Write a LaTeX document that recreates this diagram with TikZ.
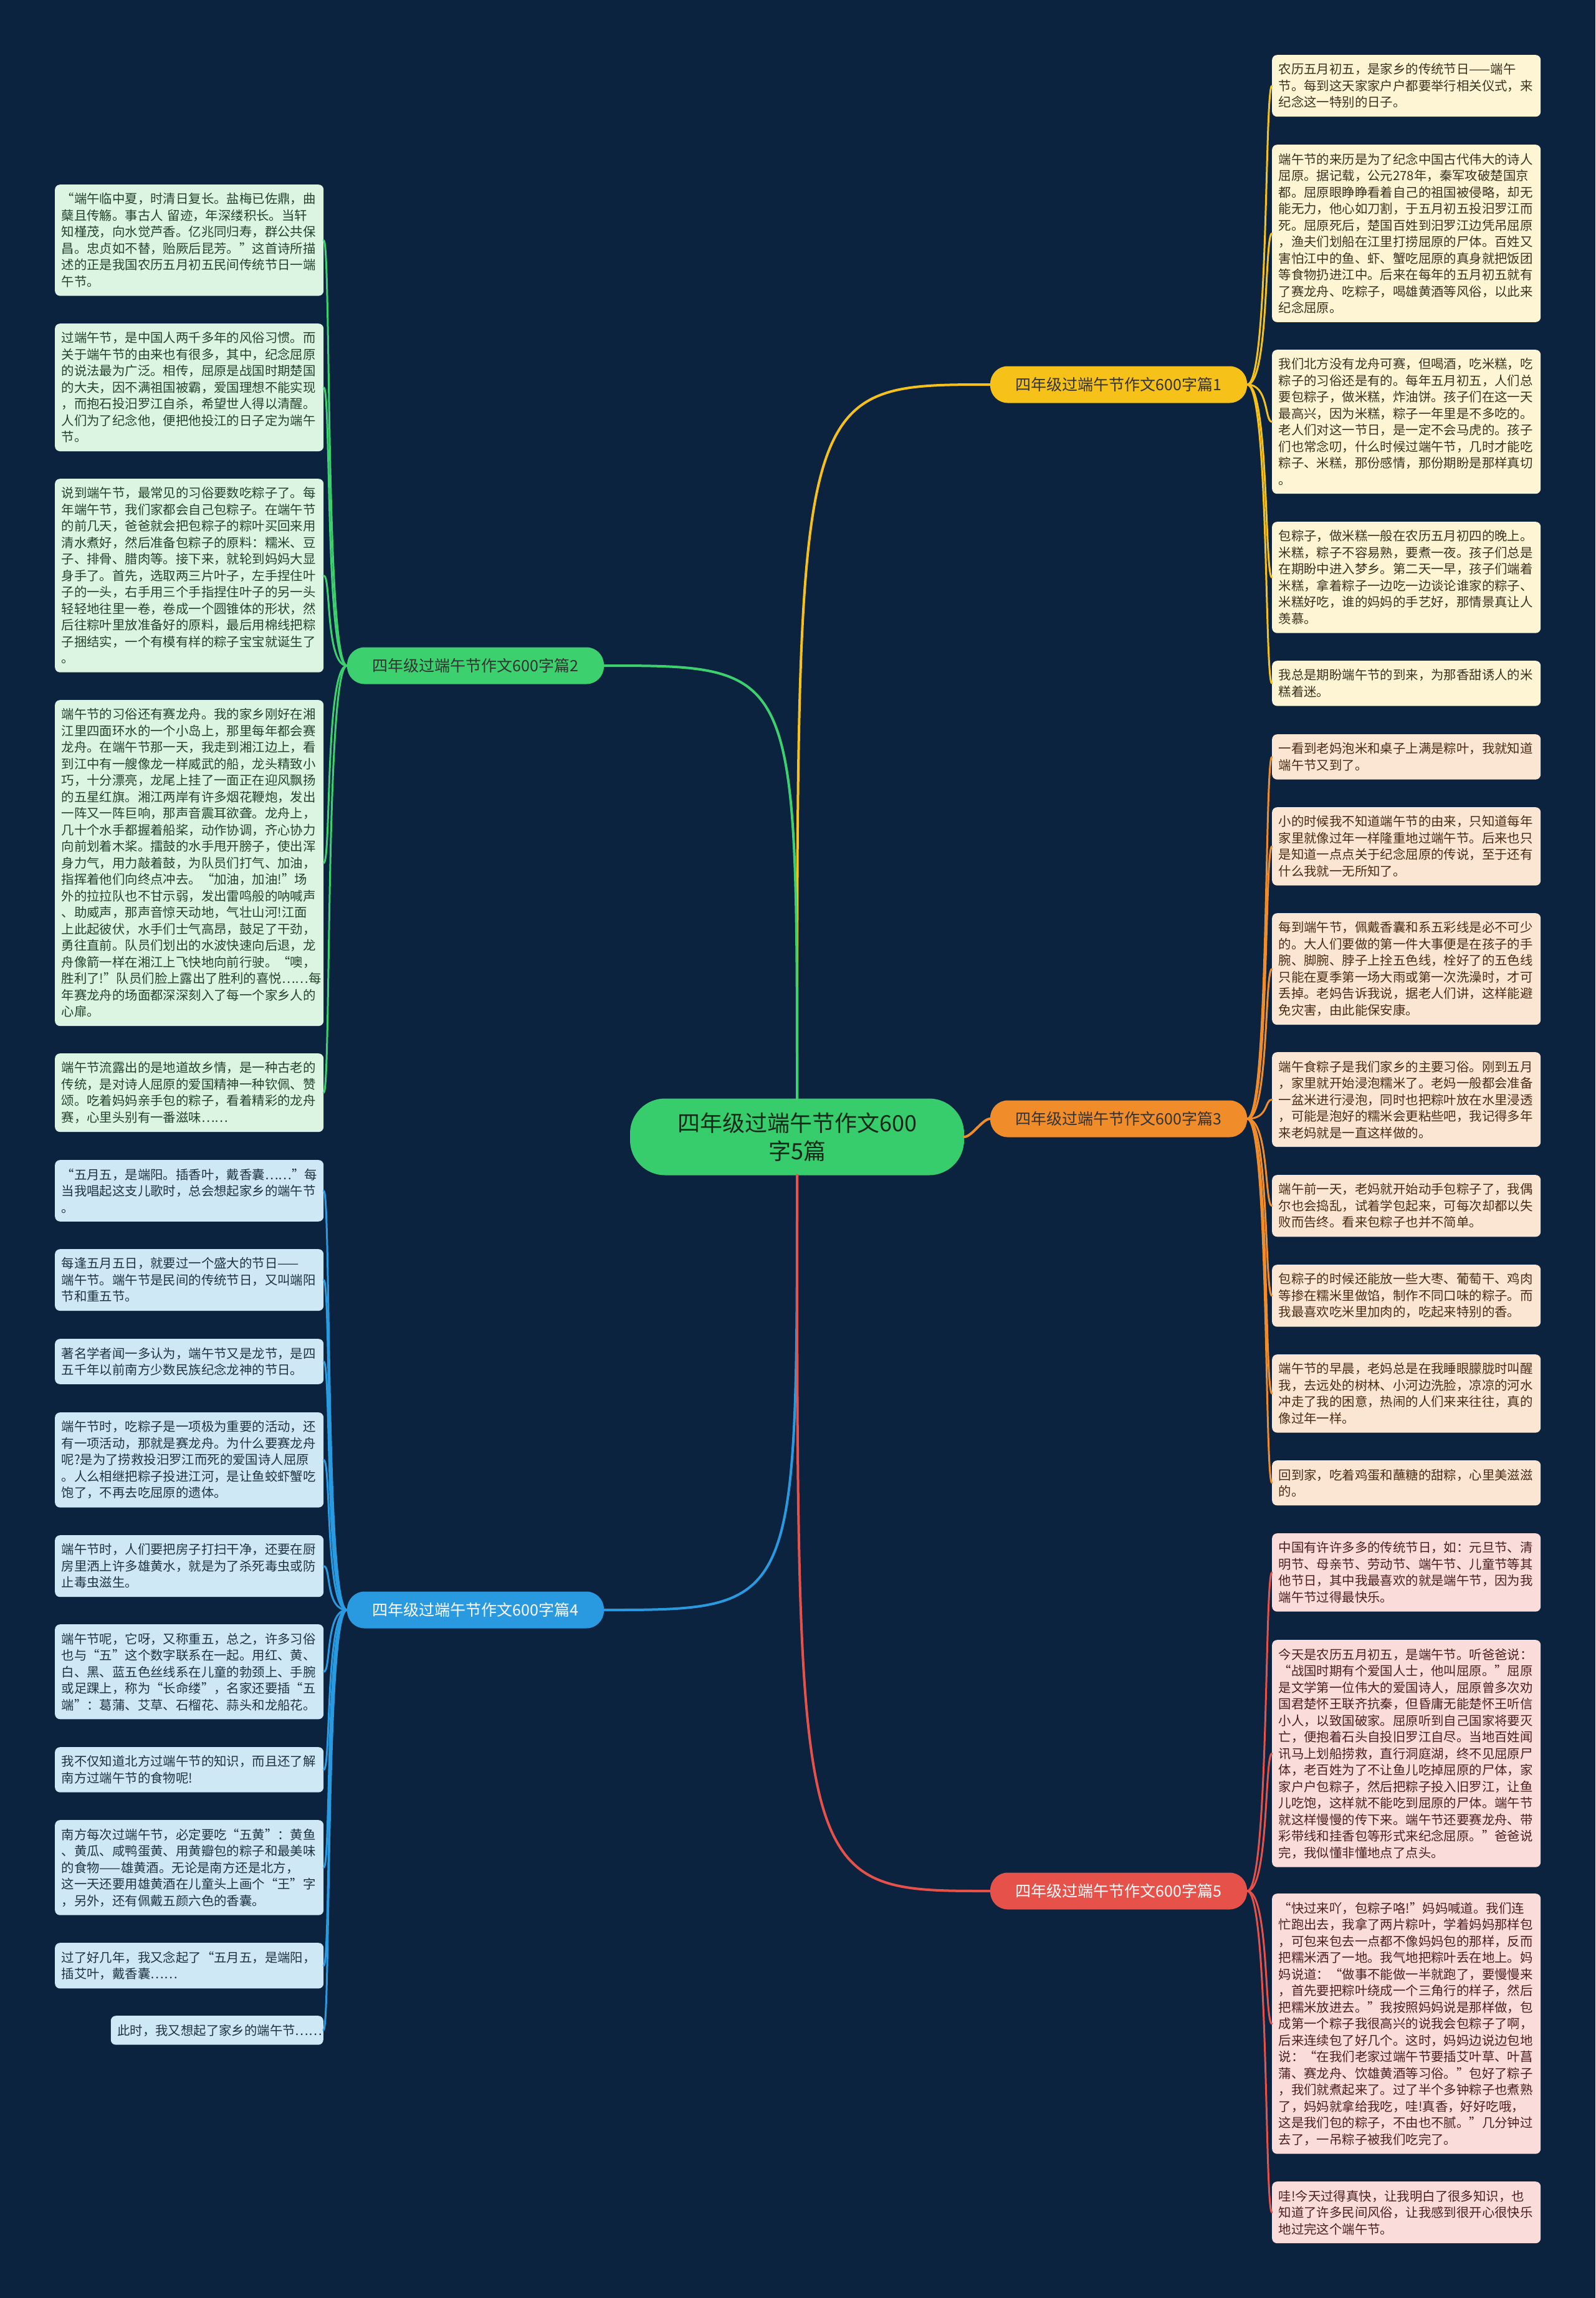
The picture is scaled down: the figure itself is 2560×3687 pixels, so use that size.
\documentclass[tikz,border=0pt]{standalone}
\usepackage{fontspec}
\setmainfont{Noto Sans CJK SC}
\usepackage{tikz}

\definecolor{bgnavy}{HTML}{0C2340}
\definecolor{rootgreen}{HTML}{38CD6C}
\definecolor{cyel}{HTML}{F6C21A}
\definecolor{cgrn}{HTML}{3DD06E}
\definecolor{corg}{HTML}{F08C2A}
\definecolor{cblu}{HTML}{2A9AE0}
\definecolor{cred}{HTML}{E6524A}
\definecolor{fyel}{HTML}{FDF5D3}
\definecolor{fgrn}{HTML}{DCF5E3}
\definecolor{forg}{HTML}{FBE6D4}
\definecolor{fblu}{HTML}{CFE8F6}
\definecolor{fred}{HTML}{FADCDB}
\definecolor{tyel}{HTML}{3B3320}
\definecolor{tgrn}{HTML}{23432B}
\definecolor{torg}{HTML}{4A2C14}
\definecolor{tblu}{HTML}{1F3344}
\definecolor{tred}{HTML}{4D1F1F}

\begin{document}
\begin{tikzpicture}[x=1pt,y=-1pt,line cap=round,
    leaf/.style={anchor=north west,rounded corners=8pt,inner xsep=10.5pt,inner ysep=13.5pt,text width=410pt,align=left,font=\fontsize{20.4}{26.5}\selectfont},
    pian/.style={rounded corners=28pt,minimum width=412pt,minimum height=59pt,inner sep=0pt,font=\fontsize{25}{30}\selectfont},
    twig/.style={line width=3pt},
    bough/.style={line width=4pt}]
    \fill[bgnavy] (0,0) rectangle (2560,3687);

    \node[fill=rootgreen,text=tgrn!60!black,rounded corners=56pt,minimum width=536pt,minimum height=123pt,align=center,font=\fontsize{36}{45}\selectfont] (root) at (1279,1824) {四年级过端午节作文600\\字5篇};

    \node[pian,fill=cyel,text=black!80] (p1) at (1795,617) {四年级过端午节作文600字篇1};
    \node[pian,fill=cgrn,text=black!80] (p2) at (763,1068) {四年级过端午节作文600字篇2};
    \node[pian,fill=corg,text=black!80] (p3) at (1795,1795) {四年级过端午节作文600字篇3};
    \node[pian,fill=cblu,text=white] (p4) at (763,2583) {四年级过端午节作文600字篇4};
    \node[pian,fill=cred,text=white] (p5) at (1795,3034) {四年级过端午节作文600字篇5};

    \node[leaf,fill=fyel,text=tyel] (y1) at (2041,88) {农历五月初五，是家乡的传统节日——端午\\节。每到这天家家户户都要举行相关仪式，来\\纪念这一特别的日子。};
    \node[leaf,fill=fyel,text=tyel] (y2) at (2041,232) {端午节的来历是为了纪念中国古代伟大的诗人\\屈原。据记载，公元278年，秦军攻破楚国京\\都。屈原眼睁睁看着自己的祖国被侵略，却无\\能无力，他心如刀割，于五月初五投汨罗江而\\死。屈原死后，楚国百姓到汨罗江边凭吊屈原\\，渔夫们划船在江里打捞屈原的尸体。百姓又\\害怕江中的鱼、虾、蟹吃屈原的真身就把饭团\\等食物扔进江中。后来在每年的五月初五就有\\了赛龙舟、吃粽子，喝雄黄酒等风俗，以此来\\纪念屈原。};
    \node[leaf,fill=fyel,text=tyel] (y3) at (2041,561) {我们北方没有龙舟可赛，但喝酒，吃米糕，吃\\粽子的习俗还是有的。每年五月初五，人们总\\要包粽子，做米糕，炸油饼。孩子们在这一天\\最高兴，因为米糕，粽子一年里是不多吃的。\\老人们对这一节日，是一定不会马虎的。孩子\\们也常念叨，什么时候过端午节，几时才能吃\\粽子、米糕，那份感情，那份期盼是那样真切\\。};
    \node[leaf,fill=fyel,text=tyel] (y4) at (2041,837) {包粽子，做米糕一般在农历五月初四的晚上。\\米糕，粽子不容易熟，要煮一夜。孩子们总是\\在期盼中进入梦乡。第二天一早，孩子们端着\\米糕，拿着粽子一边吃一边谈论谁家的粽子、\\米糕好吃，谁的妈妈的手艺好，那情景真让人\\羡慕。};
    \node[leaf,fill=fyel,text=tyel] (y5) at (2041,1060) {我总是期盼端午节的到来，为那香甜诱人的米\\糕着迷。};

    \node[leaf,fill=forg,text=torg] (o1) at (2041,1178) {一看到老妈泡米和桌子上满是粽叶，我就知道\\端午节又到了。};
    \node[leaf,fill=forg,text=torg] (o2) at (2041,1295) {小的时候我不知道端午节的由来，只知道每年\\家里就像过年一样隆重地过端午节。后来也只\\是知道一点点关于纪念屈原的传说，至于还有\\什么我就一无所知了。};
    \node[leaf,fill=forg,text=torg] (o3) at (2041,1465) {每到端午节，佩戴香囊和系五彩线是必不可少\\的。大人们要做的第一件大事便是在孩子的手\\腕、脚腕、脖子上拴五色线，栓好了的五色线\\只能在夏季第一场大雨或第一次洗澡时，才可\\丢掉。老妈告诉我说，据老人们讲，这样能避\\免灾害，由此能保安康。};
    \node[leaf,fill=forg,text=torg] (o4) at (2041,1688) {端午食粽子是我们家乡的主要习俗。刚到五月\\，家里就开始浸泡糯米了。老妈一般都会准备\\一盆米进行浸泡，同时也把粽叶放在水里浸透\\，可能是泡好的糯米会更粘些吧，我记得多年\\来老妈就是一直这样做的。};
    \node[leaf,fill=forg,text=torg] (o5) at (2041,1885) {端午前一天，老妈就开始动手包粽子了，我偶\\尔也会捣乱，试着学包起来，可每次却都以失\\败而告终。看来包粽子也并不简单。};
    \node[leaf,fill=forg,text=torg] (o6) at (2041,2029) {包粽子的时候还能放一些大枣、葡萄干、鸡肉\\等掺在糯米里做馅，制作不同口味的粽子。而\\我最喜欢吃米里加肉的，吃起来特别的香。};
    \node[leaf,fill=forg,text=torg] (o7) at (2041,2173) {端午节的早晨，老妈总是在我睡眼朦胧时叫醒\\我，去远处的树林、小河边洗脸，凉凉的河水\\冲走了我的困意，热闹的人们来来往往，真的\\像过年一样。};
    \node[leaf,fill=forg,text=torg] (o8) at (2041,2343) {回到家，吃着鸡蛋和蘸糖的甜粽，心里美滋滋\\的。};

    \node[leaf,fill=fred,text=tred] (r1) at (2041,2460) {中国有许许多多的传统节日，如：元旦节、清\\明节、母亲节、劳动节、端午节、儿童节等其\\他节日，其中我最喜欢的就是端午节，因为我\\端午节过得最快乐。};
    \node[leaf,fill=fred,text=tred] (r2) at (2041,2631) {今天是农历五月初五，是端午节。听爸爸说：\\“战国时期有个爱国人士，他叫屈原。”屈原\\是文学第一位伟大的爱国诗人，屈原曾多次劝\\国君楚怀王联齐抗秦，但昏庸无能楚怀王听信\\小人，以致国破家。屈原听到自己国家将要灭\\亡，便抱着石头自投旧罗江自尽。当地百姓闻\\讯马上划船捞救，直行洞庭湖，终不见屈原尸\\体，老百姓为了不让鱼儿吃掉屈原的尸体，家\\家户户包粽子，然后把粽子投入旧罗江，让鱼\\儿吃饱，这样就不能吃到屈原的尸体。端午节\\就这样慢慢的传下来。端午节还要赛龙舟、带\\彩带线和挂香包等形式来纪念屈原。”爸爸说\\完，我似懂非懂地点了点头。};
    \node[leaf,fill=fred,text=tred] (r3) at (2041,3038) {“快过来吖，包粽子咯!”妈妈喊道。我们连\\忙跑出去，我拿了两片粽叶，学着妈妈那样包\\，可包来包去一点都不像妈妈包的那样，反而\\把糯米洒了一地。我气地把粽叶丢在地上。妈\\妈说道：“做事不能做一半就跑了，要慢慢来\\，首先要把粽叶绕成一个三角行的样子，然后\\把糯米放进去。”我按照妈妈说是那样做，包\\成第一个粽子我很高兴的说我会包粽子了啊，\\后来连续包了好几个。这时，妈妈边说边包地\\说：“在我们老家过端午节要插艾叶草、叶菖\\蒲、赛龙舟、饮雄黄酒等习俗。”包好了粽子\\，我们就煮起来了。过了半个多钟粽子也煮熟\\了，妈妈就拿给我吃，哇!真香，好好吃哦，\\这是我们包的粽子，不由也不腻。”几分钟过\\去了，一吊粽子被我们吃完了。};
    \node[leaf,fill=fred,text=tred] (r4) at (2041,3500) {哇!今天过得真快，让我明白了很多知识，也\\知道了许多民间风俗，让我感到很开心很快乐\\地过完这个端午节。};

    \node[leaf,fill=fgrn,text=tgrn] (g1) at (88,296) {“端午临中夏，时清日复长。盐梅已佐鼎，曲\\蘖且传觞。事古人 留迹，年深缕积长。当轩\\知槿茂，向水觉芦香。亿兆同归寿，群公共保\\昌。忠贞如不替，贻厥后昆芳。”这首诗所描\\述的正是我国农历五月初五民间传统节日一端\\午节。};
    \node[leaf,fill=fgrn,text=tgrn] (g2) at (88,519) {过端午节，是中国人两千多年的风俗习惯。而\\关于端午节的由来也有很多，其中，纪念屈原\\的说法最为广泛。相传，屈原是战国时期楚国\\的大夫，因不满祖国被霸，爱国理想不能实现\\，而抱石投汨罗江自杀，希望世人得以清醒。\\人们为了纪念他，便把他投江的日子定为端午\\节。};
    \node[leaf,fill=fgrn,text=tgrn] (g3) at (88,768) {说到端午节，最常见的习俗要数吃粽子了。每\\年端午节，我们家都会自己包粽子。在端午节\\的前几天，爸爸就会把包粽子的粽叶买回来用\\清水煮好，然后准备包粽子的原料：糯米、豆\\子、排骨、腊肉等。接下来，就轮到妈妈大显\\身手了。首先，选取两三片叶子，左手捏住叶\\子的一头，右手用三个手指捏住叶子的另一头\\轻轻地往里一卷，卷成一个圆锥体的形状，然\\后往粽叶里放准备好的原料，最后用棉线把粽\\子捆结实，一个有模有样的粽子宝宝就诞生了\\。};
    \node[leaf,fill=fgrn,text=tgrn] (g4) at (88,1123) {端午节的习俗还有赛龙舟。我的家乡刚好在湘\\江里四面环水的一个小岛上，那里每年都会赛\\龙舟。在端午节那一天，我走到湘江边上，看\\到江中有一艘像龙一样威武的船，龙头精致小\\巧，十分漂亮，龙尾上挂了一面正在迎风飘扬\\的五星红旗。湘江两岸有许多烟花鞭炮，发出\\一阵又一阵巨响，那声音震耳欲聋。龙舟上，\\几十个水手都握着船桨，动作协调，齐心协力\\向前划着木桨。擂鼓的水手甩开膀子，使出浑\\身力气，用力敲着鼓，为队员们打气、加油，\\指挥着他们向终点冲去。“加油，加油!”场\\外的拉拉队也不甘示弱，发出雷鸣般的呐喊声\\、助威声，那声音惊天动地，气壮山河!江面\\上此起彼伏，水手们士气高昂，鼓足了干劲，\\勇往直前。队员们划出的水波快速向后退，龙\\舟像箭一样在湘江上飞快地向前行驶。“噢，\\胜利了!”队员们脸上露出了胜利的喜悦……每\\年赛龙舟的场面都深深刻入了每一个家乡人的\\心扉。};
    \node[leaf,fill=fgrn,text=tgrn] (g5) at (88,1690) {端午节流露出的是地道故乡情，是一种古老的\\传统，是对诗人屈原的爱国精神一种钦佩、赞\\颂。吃着妈妈亲手包的粽子，看着精彩的龙舟\\赛，心里头别有一番滋味……};

    \node[leaf,fill=fblu,text=tblu] (b1) at (88,1861) {“五月五，是端阳。插香叶，戴香囊……”每\\当我唱起这支儿歌时，总会想起家乡的端午节\\。};
    \node[leaf,fill=fblu,text=tblu] (b2) at (88,2004) {每逢五月五日，就要过一个盛大的节日——\\端午节。端午节是民间的传统节日，又叫端阳\\节和重五节。};
    \node[leaf,fill=fblu,text=tblu] (b3) at (88,2148) {著名学者闻一多认为，端午节又是龙节，是四\\五千年以前南方少数民族纪念龙神的节日。};
    \node[leaf,fill=fblu,text=tblu] (b4) at (88,2266) {端午节时，吃粽子是一项极为重要的活动，还\\有一项活动，那就是赛龙舟。为什么要赛龙舟\\呢?是为了捞救投汨罗江而死的爱国诗人屈原\\。人么相继把粽子投进江河，是让鱼蛟虾蟹吃\\饱了，不再去吃屈原的遗体。};
    \node[leaf,fill=fblu,text=tblu] (b5) at (88,2463) {端午节时，人们要把房子打扫干净，还要在厨\\房里洒上许多雄黄水，就是为了杀死毒虫或防\\止毒虫滋生。};
    \node[leaf,fill=fblu,text=tblu] (b6) at (88,2606) {端午节呢，它呀，又称重五，总之，许多习俗\\也与“五”这个数字联系在一起。用红、黄、\\白、黑、蓝五色丝线系在儿童的勃颈上、手腕\\或足踝上，称为“长命缕”，名家还要插“五\\端”：葛蒲、艾草、石榴花、蒜头和龙船花。};
    \node[leaf,fill=fblu,text=tblu] (b7) at (88,2803) {我不仅知道北方过端午节的知识，而且还了解\\南方过端午节的食物呢!};
    \node[leaf,fill=fblu,text=tblu] (b8) at (88,2920) {南方每次过端午节，必定要吃“五黄”：黄鱼\\、黄瓜、咸鸭蛋黄、用黄瓣包的粽子和最美味\\的食物——雄黄酒。无论是南方还是北方，\\这一天还要用雄黄酒在儿童头上画个“王”字\\，另外，还有佩戴五颜六色的香囊。};
    \node[leaf,fill=fblu,text=tblu] (b9) at (88,3117) {过了好几年，我又念起了“五月五，是端阳，\\插艾叶，戴香囊……};
    \node[leaf,fill=fblu,text=tblu,anchor=north east,text width=320pt] (b10) at (519,3234) {此时，我又想起了家乡的端午节……};

    \draw[bough,cyel] (root.north) .. controls (root.north |- p1.west) .. (p1.west);
    \draw[bough,cgrn] (root.north) .. controls (root.north |- p2.east) .. (p2.east);
    \draw[bough,corg] (root.east) .. controls +(12,0) and +(-12,0) .. (p3.west);
    \draw[bough,cblu] (root.south) .. controls (root.south |- p4.east) .. (p4.east);
    \draw[bough,cred] (root.south) .. controls (root.south |- p5.west) .. (p5.west);

    \foreach \lf in {y1,y2,y3,y4,y5}
      \draw[twig,cyel] (p1.east) .. controls +(35,0) and +(-12,0) .. (\lf.west);
    \foreach \lf in {o1,o2,o3,o4,o5,o6,o7,o8}
      \draw[twig,corg] (p3.east) .. controls +(35,0) and +(-12,0) .. (\lf.west);
    \foreach \lf in {r1,r2,r3,r4}
      \draw[twig,cred] (p5.east) .. controls +(35,0) and +(-12,0) .. (\lf.west);
    \foreach \lf in {g1,g2,g3,g4,g5}
      \draw[twig,cgrn] (p2.west) .. controls +(-35,0) and +(12,0) .. (\lf.east);
    \foreach \lf in {b1,b2,b3,b4,b5,b6,b7,b8,b9,b10}
      \draw[twig,cblu] (p4.west) .. controls +(-35,0) and +(12,0) .. (\lf.east);
\end{tikzpicture}
\end{document}
